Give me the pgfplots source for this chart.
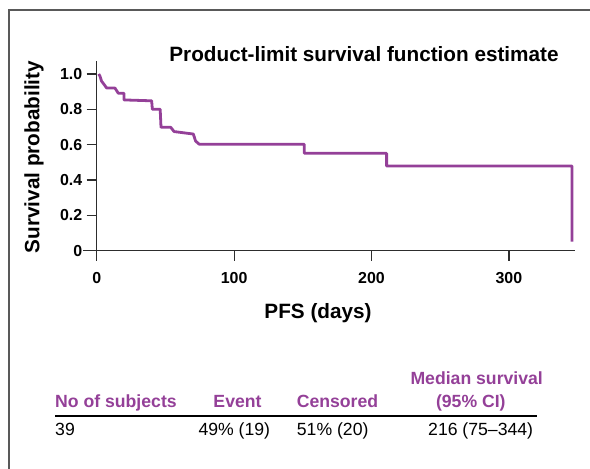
\documentclass[border=0pt]{standalone}
\usepackage{pgfplots}
\pgfplotsset{compat=1.18}
\usepackage{fontspec}
\setmainfont{Liberation Sans}
\definecolor{km}{RGB}{148,64,152}
\definecolor{axisgray}{RGB}{45,45,45}

\begin{document}
\begin{tikzpicture}[x=1bp,y=1bp]
\path[use as bounding box] (0,0) rectangle (590,469);
% frame (top and left only, figure is cropped)
\draw[gray!70!black, line width=1.2bp] (9,0) -- (9,459) -- (590,459);

\begin{axis}[
  at={(83.3bp,218.3bp)}, anchor=south west,
  scale only axis,
  width=491.7bp, height=190bp,
  xmin=-9.75, xmax=348.1,
  ymin=0, ymax=1.075,
  axis lines=middle,
  axis line style={-, axisgray, line width=1.3bp},
  hide obscured x ticks=false,
  hide obscured y ticks=false,
  tick align=outside,
  major tick length=10bp,
  tick style={axisgray, line width=1.2bp},
  xtick={0,100,200,300},
  xticklabels={0,100,200,300},
  ytick={0,0.2,0.4,0.6,0.8,1.0},
  yticklabels={0,0.2,0.4,0.6,0.8,1.0},
  ticklabel style={font=\bfseries\fontsize{16}{16}\selectfont},
  xticklabel style={yshift=-8bp},
  yticklabel style={xshift=-1bp},
  clip=false,
]
\addplot[km, line width=2.8bp, line join=round] coordinates {
  (1.5,1.0) (2.5,0.985) (3.5,0.96) (7.3,0.92)
  (13.3,0.92) (15.7,0.891)
  (19.9,0.891) (19.9,0.853)
  (40.0,0.848) (40.5,0.80)
  (46.2,0.80) (46.8,0.698)
  (53.9,0.698) (56.3,0.674)
  (70.3,0.660) (72.0,0.620) (74.7,0.602)
  (151.1,0.602) (151.1,0.551)
  (211.0,0.551) (211.0,0.479)
  (345.9,0.479) (345.9,0.051)
};
\end{axis}

% titles and axis labels
\node[font=\bfseries\fontsize{20.8}{20.8}\selectfont] at (364,415) {Product-limit survival function estimate};
\node[font=\bfseries\fontsize{20.8}{20.8}\selectfont, rotate=90] at (34,312) {Survival probability};
\node[font=\bfseries\fontsize{20.8}{20.8}\selectfont] at (318,156) {PFS (days)};

% summary table
\begin{scope}[every node/.style={font=\fontsize{17.7}{17.7}\selectfont, anchor=base, inner sep=0pt}]
  \node[km, font=\bfseries\fontsize{17.7}{17.7}\selectfont] at (476.7,84) {Median survival};
  \node[km, font=\bfseries\fontsize{17.7}{17.7}\selectfont, anchor=base west] at (55,61.3) {No of subjects};
  \node[km, font=\bfseries\fontsize{17.7}{17.7}\selectfont] at (237.5,61.3) {Event};
  \node[km, font=\bfseries\fontsize{17.7}{17.7}\selectfont] at (337.5,61.3) {Censored};
  \node[km, font=\bfseries\fontsize{17.7}{17.7}\selectfont] at (470.8,61.3) {(95\% CI)};
  \draw[black, line width=1.3bp] (55,53) -- (536.7,53);
  \node[anchor=base west] at (55,33) {39};
  \node[anchor=base west] at (198.3,33) {49\% (19)};
  \node[anchor=base west] at (296.7,33) {51\% (20)};
  \node[anchor=base east] at (533.3,33) {216 (75--344)};
\end{scope}
\end{tikzpicture}
\end{document}
